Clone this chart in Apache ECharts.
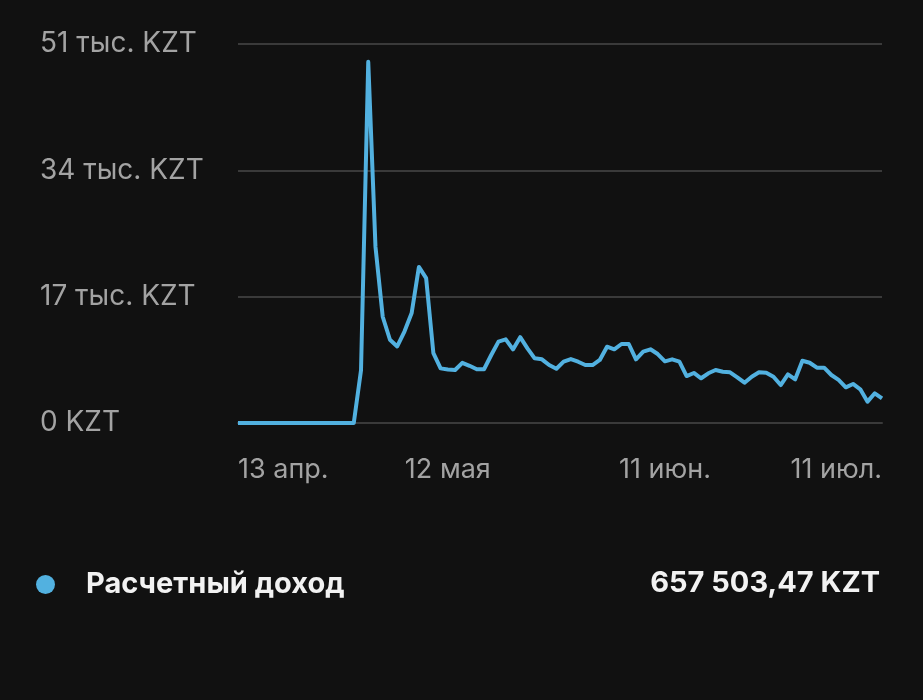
<!DOCTYPE html>
<html>
<head>
<meta charset="utf-8">
<title>Расчетный доход</title>
<script src="https://cdn.jsdelivr.net/npm/echarts@6/dist/echarts.min.js"></script>
<style>
    html, body { margin: 0; padding: 0; background: #111111; }
    #incomeChart { width: 923px; height: 700px; }
</style>
</head>
<body>
<div id="incomeChart"></div>
<script>
// дни с 13 апр. по 11 июл.
var startDate = new Date(2023, 3, 13);
var dayCount = 90;
var dateList = [];
for (var d = 0; d < dayCount; d++) {
    var day = new Date(startDate.getTime() + d * 86400000);
    dateList.push(day.getDate() + '.' + (day.getMonth() + 1));
}

// подписи оси X: индекс дня -> текст
var tickIndexes = [0, 29, 59, 89];
var tickLabels = ['13 апр.', '12 мая', '11 июн.', '11 июл.'];

// расчетный доход по дням, KZT
var incomeList = [
    0, 0, 0, 0, 0, 0, 0, 0, 0, 0,
    0, 0, 0, 0, 0, 0, 0, 7100, 48600, 23700,
    14300, 11200, 10300, 12300, 14800, 21000, 19500, 9400, 7350, 7200,
    7130, 8100, 7700, 7230, 7230, 9150, 10950, 11250, 9900, 11550,
    10050, 8700, 8570, 7800, 7300, 8250, 8600, 8250, 7800, 7800,
    8480, 10270, 9920, 10630, 10630, 8570, 9600, 9920, 9280, 8300,
    8570, 8250, 6320, 6730, 6020, 6690, 7130, 6900, 6820, 6150,
    5420, 6230, 6820, 6770, 6230, 5110, 6550, 5880, 8380, 8110,
    7440, 7440, 6460, 5790, 4800, 5250, 4540, 2870, 4000, 3320
];

var yTicks = { min: 0, max: 51000, step: 17000 };
var seriesName = 'Расчетный доход';
var totalText = '657 503,47 KZT';

var fontName = 'Inter, Roboto, "Noto Sans", sans-serif';

function yLabel(v) {
    if (v === 0) {
        return '0 KZT';
    }
    return (v / 1000) + ' тыс. KZT';
}

function initChart() {
    var chart = echarts.init(document.getElementById('incomeChart'));
    var option = {
        backgroundColor: '#111111',
        animation: false,
        textStyle: { fontFamily: fontName },
        grid: {
            left: 238,
            right: 41,
            top: 44,
            bottom: 277,
            containLabel: false,
            outerBoundsMode: 'none'
        },
        legend: {
            data: [seriesName],
            left: 31,
            top: 565,
            icon: 'circle',
            itemWidth: 19,
            itemHeight: 19,
            textStyle: {
                color: '#f2f2f2',
                fontSize: 29,
                fontWeight: 'bold',
                fontFamily: fontName,
                padding: [0, 0, 0, 26]
            }
        },
        graphic: [{
            type: 'text',
            x: 880,
            y: 583,
            style: {
                text: totalText,
                fill: '#f2f2f2',
                fontSize: 29,
                fontWeight: 'bold',
                fontFamily: fontName,
                textAlign: 'right',
                textVerticalAlign: 'middle'
            }
        }],
        xAxis: [{
            type: 'category',
            data: dateList,
            boundaryGap: false,
            axisLine: { show: true, lineStyle: { color: '#3a3a3a', width: 2 } },
            axisTick: { show: false },
            axisLabel: {
                color: '#a3a3a3',
                fontSize: 27,
                fontFamily: fontName,
                margin: 33,
                showMinLabel: true,
                showMaxLabel: true,
                alignMinLabel: 'left',
                alignMaxLabel: 'right',
                interval: function (index) {
                    return tickIndexes.indexOf(index) >= 0;
                },
                formatter: function (value, index) {
                    var k = tickIndexes.indexOf(index);
                    return k >= 0 ? tickLabels[k] : '';
                }
            },
            splitLine: { show: false }
        }],
        yAxis: [{
            type: 'value',
            min: yTicks.min,
            max: yTicks.max,
            interval: yTicks.step,
            axisLine: { show: false },
            axisTick: { show: false },
            axisLabel: {
                color: '#a3a3a3',
                fontSize: 28,
                fontFamily: fontName,
                align: 'left',
                margin: 198,
                formatter: yLabel
            },
            splitLine: { lineStyle: { color: '#3a3a3a', width: 2 } }
        }],
        series: [{
            name: seriesName,
            type: 'line',
            data: incomeList,
            showSymbol: false,
            smooth: false,
            color: '#52b1e0',
            lineStyle: { width: 4, color: '#52b1e0', join: 'round' }
        }]
    };
    chart.setOption(option);
}

initChart();
</script>
</body>
</html>
